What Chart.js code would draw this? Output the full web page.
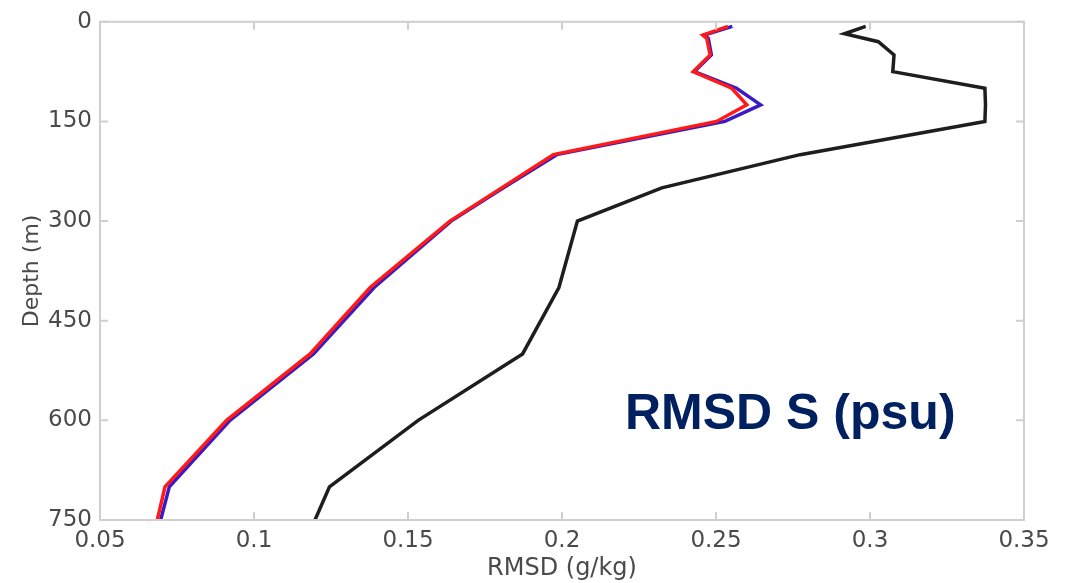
<!DOCTYPE html>
<html>
<head>
<meta charset="utf-8">
<script src="https://cdn.jsdelivr.net/npm/chart.js@4"></script>
<style>
  html, body { margin: 0; padding: 0; background: #fff; }
  #wrap { position: relative; width: 1068px; height: 583px; }
</style>
</head>
<body>
<div id="wrap"><canvas id="rmsdChart" width="1068" height="583"></canvas></div>
<script>
// Datos del perfil (profundidad en m, RMSD en g/kg)
const depthRef = [7, 18, 30, 50, 75, 100, 125, 150, 200, 250, 300, 400, 500, 600, 700, 750];
const rmsdRef = [0.2986, 0.2917, 0.3027, 0.3078, 0.3074, 0.3373, 0.3375, 0.3373, 0.2773, 0.2324, 0.2050, 0.1990, 0.1872, 0.1533, 0.1245, 0.1198];

const depthModel = [7, 20, 25, 50, 75, 100, 125, 150, 200, 250, 300, 400, 500, 600, 700, 750];
const rmsdBlue = [0.2553, 0.2462, 0.2475, 0.2485, 0.2430, 0.2567, 0.2645, 0.2529, 0.1983, 0.1810, 0.1640, 0.1390, 0.1193, 0.0922, 0.0725, 0.0697];
const rmsdRed = [0.2539, 0.2457, 0.2470, 0.2481, 0.2426, 0.2551, 0.2600, 0.2502, 0.1972, 0.1804, 0.1636, 0.1377, 0.1182, 0.0911, 0.0711, 0.0686];

const xTicks = ['0.05', '0.1', '0.15', '0.2', '0.25', '0.3', '0.35'];
const yTicks = ['0', '150', '300', '450', '600', '750'];

function toPoints(xs, ys) {
    return xs.map((v, i) => ({ x: v, y: ys[i] }));
}

// Marcas hacia dentro en los cuatro lados + marco gris
const frameTicks = {
    id: 'frameTicks',
    afterDraw(chart) {
        const { ctx, chartArea: a, scales } = chart;
        ctx.save();
        ctx.strokeStyle = '#cfcfcf';
        ctx.lineWidth = 2;
        ctx.strokeRect(a.left, a.top, a.right - a.left, a.bottom - a.top);
        const len = 8;
        ctx.beginPath();
        xTicks.forEach(t => {
            const px = scales.x.getPixelForValue(parseFloat(t));
            ctx.moveTo(px, a.bottom); ctx.lineTo(px, a.bottom - len);
            ctx.moveTo(px, a.top); ctx.lineTo(px, a.top + len);
        });
        yTicks.forEach(t => {
            const py = scales.y.getPixelForValue(parseFloat(t));
            ctx.moveTo(a.left, py); ctx.lineTo(a.left + len, py);
            ctx.moveTo(a.right, py); ctx.lineTo(a.right - len, py);
        });
        ctx.stroke();

        // Etiqueta grande
        ctx.fillStyle = '#002060';
        ctx.font = 'bold 50px "Liberation Sans", Arial, sans-serif';
        ctx.textBaseline = 'alphabetic';
        ctx.textAlign = 'left';
        ctx.fillText('RMSD S (psu)', 625, 429);
        ctx.restore();
    }
};

new Chart(document.getElementById('rmsdChart'), {
    type: 'scatter',
    data: {
        datasets: [{
            label: 'Ref',
            data: toPoints(rmsdRef, depthRef),
            showLine: true,
            borderColor: '#1e1e1e',
            borderWidth: 3.5,
            pointRadius: 0,
            order: 3
        }, {
            label: 'Blue',
            data: toPoints(rmsdBlue, depthModel),
            showLine: true,
            borderColor: '#3b1bc4',
            borderWidth: 3.5,
            pointRadius: 0,
            order: 2
        }, {
            label: 'Red',
            data: toPoints(rmsdRed, depthModel),
            showLine: true,
            borderColor: '#ff1a1a',
            borderWidth: 3.5,
            pointRadius: 0,
            order: 1
        }]
    },
    options: {
        responsive: false,
        animation: false,
        layout: { padding: { top: 20, right: 44, bottom: 0, left: 0 } },
        plugins: {
            legend: { display: false },
            tooltip: { enabled: false }
        },
        scales: {
            x: {
                type: 'linear',
                min: 0.05,
                max: 0.35,
                afterFit: s => { s.height = 63; },
                afterBuildTicks: s => { s.ticks = xTicks.map(t => ({ value: parseFloat(t) })); },
                grid: { display: false, drawTicks: false },
                border: { display: false },
                ticks: {
                    padding: 7,
                    color: '#4a4a4a',
                    font: { family: 'DejaVu Sans', size: 23 },
                    maxRotation: 0,
                    autoSkip: false,
                    callback: (v, i) => xTicks[i]
                },
                title: {
                    display: true,
                    text: 'RMSD (g/kg)',
                    color: '#4a4a4a',
                    font: { family: 'DejaVu Sans', size: 24 },
                    padding: { top: 0, bottom: 0 }
                }
            },
            y: {
                type: 'linear',
                reverse: true,
                min: 0,
                max: 750,
                afterFit: s => { s.width = 100; },
                afterBuildTicks: s => { s.ticks = yTicks.map(t => ({ value: parseFloat(t) })); },
                grid: { display: false, drawTicks: false },
                border: { display: false },
                ticks: {
                    padding: 8,
                    color: '#4a4a4a',
                    font: { family: 'DejaVu Sans', size: 23 },
                    autoSkip: false,
                    callback: (v, i) => yTicks[i]
                },
                title: {
                    display: true,
                    text: 'Depth (m)',
                    color: '#4a4a4a',
                    font: { family: 'DejaVu Sans', size: 22 },
                    padding: { top: 19, bottom: 0 }
                }
            }
        }
    },
    plugins: [frameTicks]
});
</script>
</body>
</html>
